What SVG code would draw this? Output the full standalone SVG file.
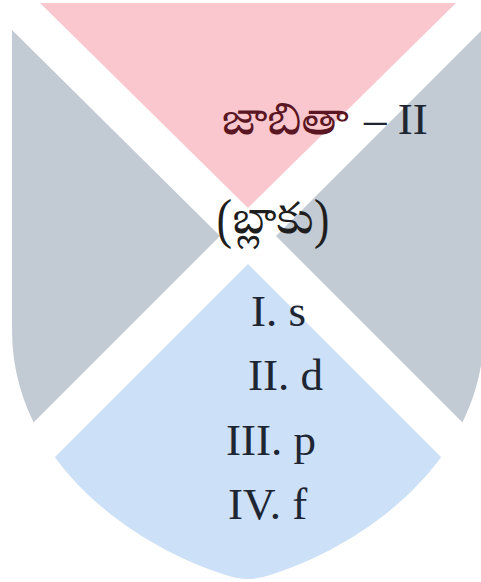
<svg xmlns="http://www.w3.org/2000/svg" width="481" height="582" viewBox="0 0 481 582">
  <defs>
    <clipPath id="shield">
      <path d="M12,0 L484,0 L484,330 C484,468 352,550 270,575 Q248,583 226,575 C144,550 12,468 12,330 Z"/>
    </clipPath>
  </defs>
  <style>
    .pink { fill: #F9C7CD; }
    .gray { fill: #C2CAD3; }
    .blue { fill: #CCE0F7; }
    .tel { font-family: "Noto Serif Telugu", "Noto Sans Telugu", "Gautami", "Liberation Serif", serif; font-size: 44px; }
    .rom { font-family: "Liberation Serif", "Times New Roman", serif; font-size: 45px; fill: #1E2633; }
  </style>
  <rect width="481" height="582" fill="#FFFFFF"/>
  <g clip-path="url(#shield)">
    <g id="top-region">
      <polygon class="pink" points="40,3 456,3 248,208"/>
    </g>
    <g id="left-region">
      <polygon class="gray" points="0,18 220,236 0,456"/>
    </g>
    <g id="right-region">
      <polygon class="gray" points="496,16 276,236 496,456"/>
    </g>
    <g id="bottom-region">
      <polygon class="blue" points="248,264 0,512 248,760 496,512"/>
    </g>
  </g>
  <g id="connectors"/>
  <g id="title">
    <text x="222" y="134" class="tel" fill="#5A1622" textLength="127" lengthAdjust="spacingAndGlyphs">జాబితా</text>
    <text x="364" y="134" class="rom" fill="#2A2A2A" font-size="43px">– II</text>
  </g>
  <g id="subtitle">
    <text x="216" y="233" class="tel" fill="#1E1E1E" textLength="114" lengthAdjust="spacingAndGlyphs">(బ్లాకు)</text>
  </g>
  <g id="list">
    <text x="251" y="326" class="rom">I. s</text>
    <text x="248" y="390" class="rom">II. d</text>
    <text x="226" y="455" class="rom">III. p</text>
    <text x="228" y="519" class="rom">IV. f</text>
  </g>
</svg>
